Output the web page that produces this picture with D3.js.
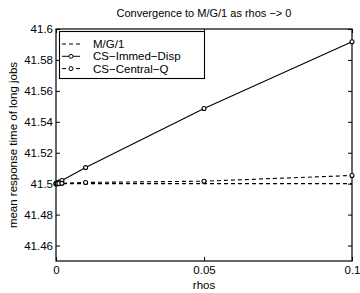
<!DOCTYPE html>
<html lang="en">
<head>
    <meta charset="UTF-8">
    <title>Convergence</title>
    <script src="https://d3js.org/d3.v7.min.js"></script>
    <style>
        body {margin: 0; background: white;}
        text {font-family: "Liberation Sans", Arial, sans-serif; fill: black;}
    </style>
</head>
<body>
<script>
    const width = 360;
    const height = 293;

    // data
    const rhos = [0, 0.0005, 0.001, 0.002, 0.01, 0.05, 0.1];
    const mg1 = [41.5, 41.5, 41.5, 41.5, 41.5, 41.5, 41.5];
    const immedDisp = [41.5, 41.5005, 41.501, 41.502, 41.5104, 41.5486, 41.5918];
    const centralQ = [41.5, 41.5, 41.5001, 41.5002, 41.5008, 41.5016, 41.5053];
    const xTicks = [0, 0.05, 0.1];
    const xTickLabels = ["0", "0.05", "0.1"];
    const yTicks = [41.46, 41.48, 41.5, 41.52, 41.54, 41.56, 41.58, 41.6];
    const yTickLabels = ["41.46", "41.48", "41.5", "41.52", "41.54", "41.56", "41.58", "41.6"];

    const series = [
        {name: "M/G/1", values: mg1, dash: "4,3", marker: false},
        {name: "CS\u2212Immed\u2212Disp", values: immedDisp, dash: null, marker: true},
        {name: "CS\u2212Central\u2212Q", values: centralQ, dash: "4,3", marker: true}
    ];

    const margin = {left: 56, right: 8, top: 29, bottom: 32};
    const x0 = margin.left, x1 = width - margin.right;
    const y0 = margin.top, y1 = height - margin.bottom;

    const x = d3.scaleLinear().domain([0, 0.1]).range([x0, x1]);
    const y = d3.scaleLinear().domain([41.45, 41.6]).range([y1, y0]);

    const svg = d3.select("body").append("svg")
            .attr("width", width).attr("height", height);

    // axes box
    svg.append("rect")
            .attr("x", x0).attr("y", y0)
            .attr("width", x1 - x0).attr("height", y1 - y0)
            .style("fill", "none").style("stroke", "black").style("stroke-width", 1.2);

    // ticks (inside, matlab style)
    const tl = 4;
    const yAxis = svg.append("g").attr("transform", `translate(${x0},0)`)
            .call(d3.axisLeft(y).tickValues(yTicks).tickSize(-tl).tickPadding(3)
                    .tickFormat((d, i) => yTickLabels[i]));
    const yAxisR = svg.append("g").attr("transform", `translate(${x1},0)`)
            .call(d3.axisRight(y).tickValues(yTicks).tickSize(-tl).tickFormat(""));
    const xAxis = svg.append("g").attr("transform", `translate(0,${y1})`)
            .call(d3.axisBottom(x).tickValues(xTicks).tickSize(-tl).tickPadding(5)
                    .tickFormat((d, i) => xTickLabels[i]));
    const xAxisT = svg.append("g").attr("transform", `translate(0,${y0})`)
            .call(d3.axisTop(x).tickValues(xTicks).tickSize(-tl).tickFormat(""));

    [yAxis, yAxisR, xAxis, xAxisT].forEach(a => {
        a.select(".domain").remove();
        a.selectAll("line").style("stroke", "black");
        a.selectAll("text").style("font-size", "11.5px")
                .style("font-family", "Liberation Sans, Arial, sans-serif");
    });

    // lines
    const line = d3.line().x((d, i) => x(rhos[i])).y(d => y(d));
    series.forEach(s => {
        svg.append("path")
                .datum(s.values)
                .attr("d", line)
                .style("fill", "none")
                .style("stroke", "black")
                .style("stroke-width", 1.1)
                .style("stroke-dasharray", s.dash);
        if (s.marker) {
            svg.append("g").selectAll("circle")
                    .data(s.values)
                    .enter().append("circle")
                    .attr("cx", (d, i) => x(rhos[i]))
                    .attr("cy", d => y(d))
                    .attr("r", 2)
                    .style("fill", "white")
                    .style("stroke", "black")
                    .style("stroke-width", 1.1);
        }
    });

    // legend
    const lg = svg.append("g");
    lg.append("rect")
            .attr("x", 59.5).attr("y", 31.5).attr("width", 145).attr("height", 47)
            .style("fill", "white").style("stroke", "black").style("stroke-width", 1.1);
    series.forEach((s, i) => {
        const ly = 44 + i * 12.3;
        lg.append("line")
                .attr("x1", 62).attr("x2", 80).attr("y1", ly).attr("y2", ly)
                .style("stroke", "black").style("stroke-dasharray", s.dash);
        if (s.marker) {
            lg.append("circle").attr("cx", 71).attr("cy", ly).attr("r", 2)
                    .style("fill", "white").style("stroke", "black");
        }
        lg.append("text").attr("x", 93).attr("y", ly).attr("dy", "0.35em")
                .style("font-size", "11.5px").text(s.name);
    });

    // title and labels
    svg.append("text").attr("x", (x0 + x1) / 2).attr("y", 17)
            .attr("text-anchor", "middle").style("font-size", "11px")
            .text("Convergence to M/G/1 as rhos \u2212> 0");
    svg.append("text").attr("x", (x0 + x1) / 2).attr("y", 289)
            .attr("text-anchor", "middle").style("font-size", "11.5px")
            .text("rhos");
    svg.append("text")
            .attr("transform", `translate(17,${(y0 + y1) / 2}) rotate(-90)`)
            .attr("text-anchor", "middle").style("font-size", "11.5px")
            .text("mean response time of long jobs");
</script>
</body>
</html>
